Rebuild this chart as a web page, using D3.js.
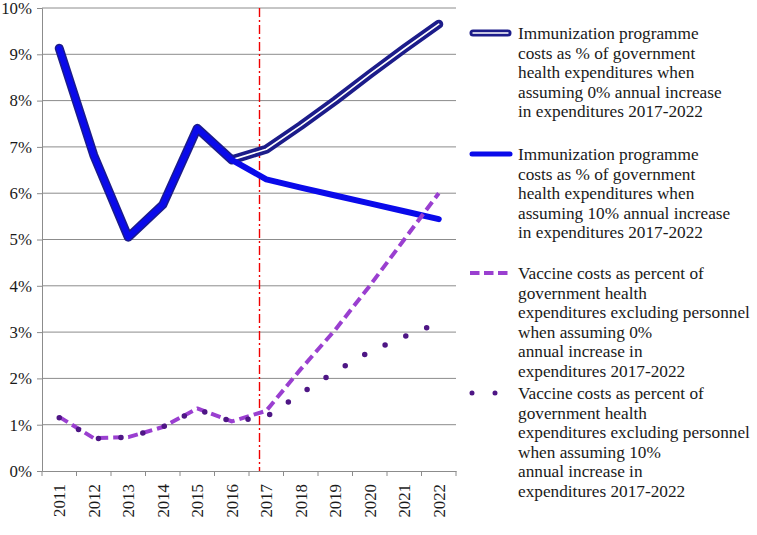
<!DOCTYPE html>
<html><head><meta charset="utf-8">
<script src="https://cdn.jsdelivr.net/npm/d3@7"></script>
<style>
html,body{margin:0;padding:0;background:#fff;}
svg{display:block;}
text{font-family:"Liberation Serif","Times New Roman",serif;fill:#1a1a1a;}
</style></head>
<body>
<svg id="c" width="757" height="535"></svg>
<script>
const years = ["2011","2012","2013","2014","2015","2016","2017","2018","2019","2020","2021","2022"];
const immun0 = [0.0913,0.0682,0.0505,0.0575,0.0740,0.0672,0.0695,0.0746,0.0800,0.0857,0.0912,0.0965];
const immun10 = [0.0913,0.0682,0.0505,0.0575,0.0740,0.0672,0.0630,0.0612,0.0595,0.0578,0.0561,0.0544];
const vacc0 = [0.0117,0.0071,0.0073,0.0095,0.0135,0.0107,0.0130,0.0220,0.0305,0.0400,0.0500,0.0600];
const vacc10 = [0.0115,0.0070,0.0073,0.0095,0.0133,0.0107,0.0117,0.0167,0.0215,0.0258,0.0290,0.0320];
const yTicks = [0,0.01,0.02,0.03,0.04,0.05,0.06,0.07,0.08,0.09,0.10];
const markerYear = "2017";
const legendLabels = [
  ["Immunization programme","costs as % of government","health expenditures when","assuming 0% annual increase","in expenditures 2017-2022"],
  ["Immunization programme","costs as % of government","health expenditures when","assuming 10% annual increase","in expenditures 2017-2022"],
  ["Vaccine costs as percent of","government health","expenditures excluding personnel","when assuming 0%","annual increase in","expenditures 2017-2022"],
  ["Vaccine costs as percent of","government health","expenditures excluding personnel","when assuming 10%","annual increase in","expenditures 2017-2022"]
];

const svg = d3.select("#c");
const L = 42, R = 456, T = 8, B = 471;
const x = d3.scaleBand().domain(years).range([L, R]).padding(0);
const y = d3.scaleLinear().domain([0, 0.10]).range([B, T]);
const cx = d => x(d) + x.bandwidth() / 2;

function fitSize(sample, target) {
  const t = svg.append("text").style("font-size", "20px").text(sample);
  const w = t.node().getComputedTextLength();
  t.remove();
  return 20 * target / w;
}
const legendFs = fitSize("expenditures excluding personnel", 232);
const tickFs = fitSize("2011", 33);

// gridlines
svg.append("g").selectAll("line").data(yTicks.filter(v => v > 0)).join("line")
  .attr("x1", L).attr("x2", R).attr("y1", d => y(d)).attr("y2", d => y(d))
  .attr("stroke", "#8c8c8c").attr("stroke-width", 1);

// y axis
const ya = svg.append("g").attr("transform", `translate(${L},0)`)
  .call(d3.axisLeft(y).tickValues(yTicks).tickFormat(d3.format(".0%")).tickSize(5).tickPadding(5));
ya.attr("font-family", null);
ya.select(".domain").attr("stroke", "#8c8c8c");
ya.selectAll(".tick line").attr("stroke", "#8c8c8c");
ya.selectAll(".tick text").style("font-size", tickFs + "px").attr("fill", "#1a1a1a");

// x axis
const xa = svg.append("g").attr("transform", `translate(0,${B})`)
  .call(d3.axisBottom(x).tickSize(0).tickFormat(d => d));
xa.attr("font-family", null);
xa.select(".domain").attr("stroke", "#8c8c8c");
xa.selectAll(".tick text")
  .style("font-size", tickFs + "px").attr("fill", "#1a1a1a")
  .attr("transform", "rotate(-90)").attr("text-anchor", "end").attr("dy", "0.35em").attr("x", -13).attr("y", 0);
svg.append("g").selectAll("line").data(years.concat(["end"])).join("line")
  .attr("x1", (d) => d === "end" ? R : x(d)).attr("x2", (d) => d === "end" ? R : x(d))
  .attr("y1", B).attr("y2", B + 5).attr("stroke", "#8c8c8c");

// vertical marker line
const mx = Math.floor(x(markerYear) + x.bandwidth() * 0.3) + 0.5;
svg.append("line").attr("x1", mx).attr("x2", mx).attr("y1", T).attr("y2", B)
  .attr("stroke", "#f00000").attr("stroke-width", 1.4).attr("stroke-dasharray", "9,3,2,3");

const line = d3.line().x((d, i) => cx(years[i])).y(d => y(d));

const navy = "#1c1c8a", blue = "#0a0aea", orchid = "#9a3fd0", plum = "#4e1685";

svg.append("path").attr("d", line(immun0)).attr("fill", "none").attr("stroke", navy)
  .attr("stroke-width", 9).attr("stroke-linejoin", "round").attr("stroke-linecap", "round");
svg.append("path").attr("d", line(immun0)).attr("fill", "none").attr("stroke", "#fff")
  .attr("stroke-width", 1.6).attr("stroke-linejoin", "round").attr("stroke-linecap", "round");
svg.append("path").attr("d", line(immun10)).attr("fill", "none").attr("stroke", blue)
  .attr("stroke-width", 6).attr("stroke-linejoin", "round").attr("stroke-linecap", "round");
svg.append("path").attr("d", line(vacc0)).attr("fill", "none").attr("stroke", orchid)
  .attr("stroke-width", 4).attr("stroke-dasharray", "10,5").attr("stroke-linejoin", "round");
svg.append("path").attr("d", line(vacc10)).attr("fill", "none").attr("stroke", plum)
  .attr("stroke-width", 5.5).attr("stroke-dasharray", "0,22.5").attr("stroke-linecap", "round");

// legend
const lg = svg.append("g");
const lx1 = 470, lx2 = 511, tx = 518, lh = 19.6;
const legendY = [33, 154, 273, 393];
legendLabels.forEach((lines, i) => {
  const ly = legendY[i];
  const g = lg.append("g");
  if (i === 0) {
    g.append("line").attr("x1", lx1 + 3).attr("x2", lx2 - 3).attr("y1", ly).attr("y2", ly)
      .attr("stroke", navy).attr("stroke-width", 7).attr("stroke-linecap", "round");
    g.append("line").attr("x1", lx1 + 3).attr("x2", lx2 - 3).attr("y1", ly).attr("y2", ly)
      .attr("stroke", "#fff").attr("stroke-width", 1.4).attr("stroke-linecap", "round");
  } else if (i === 1) {
    g.append("line").attr("x1", lx1 + 2).attr("x2", lx2 - 1).attr("y1", ly).attr("y2", ly)
      .attr("stroke", blue).attr("stroke-width", 5).attr("stroke-linecap", "round");
  } else if (i === 2) {
    g.append("line").attr("x1", lx1).attr("x2", lx2 - 3).attr("y1", ly).attr("y2", ly)
      .attr("stroke", orchid).attr("stroke-width", 4).attr("stroke-dasharray", "9.5,4.5");
  } else {
    g.append("line").attr("x1", lx1 + 2).attr("x2", lx2 - 6).attr("y1", ly).attr("y2", ly)
      .attr("stroke", plum).attr("stroke-width", 5).attr("stroke-dasharray", "0,23").attr("stroke-linecap", "round");
  }
  const t = g.append("text").attr("x", tx).attr("y", ly).style("font-size", legendFs + "px");
  lines.forEach((s, k) => {
    t.append("tspan").attr("x", tx).attr("y", ly + k * lh).attr("dy", "0.35em").text(s);
  });
});
</script>
</body></html>
